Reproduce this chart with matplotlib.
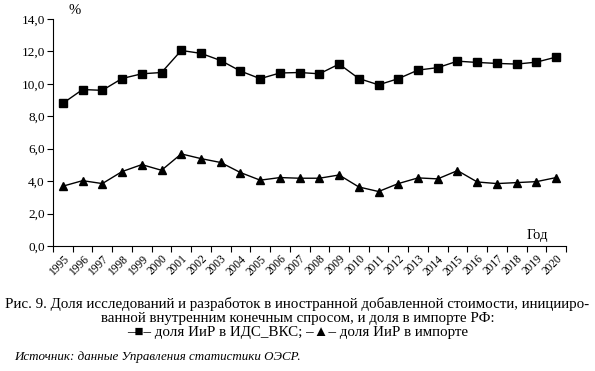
import matplotlib
matplotlib.use("Agg")
import matplotlib.pyplot as plt
from matplotlib.ticker import FixedLocator, FuncFormatter

plt.rcParams['font.family'] = ['Liberation Serif', 'DejaVu Serif']

# years and the two series (percent)
years = list(range(1995, 2021))
rd_fva = [8.8, 9.65, 9.6, 10.33, 10.62, 10.7, 12.06, 11.88, 11.44, 10.79, 10.32, 10.67, 10.7,
          10.62, 11.22, 10.33, 9.94, 10.32, 10.85, 11.0, 11.4, 11.32, 11.26, 11.22, 11.34, 11.65]
rd_import = [3.69, 4.03, 3.85, 4.59, 5.02, 4.67, 5.68, 5.39, 5.15, 4.53, 4.06, 4.22, 4.18,
             4.18, 4.38, 3.64, 3.36, 3.85, 4.2, 4.14, 4.65, 3.95, 3.85, 3.91, 3.97, 4.22]
y_ticks = [0, 2, 4, 6, 8, 10, 12, 14]

fig = plt.figure(figsize=(5.95, 3.71), dpi=100)
ax = fig.add_axes([53 / 595, 1 - 246 / 371, 513 / 595, 227 / 371])

x = list(range(len(years)))
ax.plot(x, rd_fva, color='black', lw=1.0, marker='s', ms=5.2)
ax.plot(x, rd_import, color='black', lw=1.0, marker='^', ms=6.2)

ax.set_xlim(-0.5, len(years) - 0.5)
ax.set_ylim(0, 14)
ax.set_yticks(y_ticks)
ax.yaxis.set_major_formatter(FuncFormatter(lambda v, p: f"{v:.1f}".replace('.', ',')))

# category axis: ticks between categories, labels at centres
ax.xaxis.set_major_locator(FixedLocator([i - 0.5 for i in range(len(years) + 1)]))
ax.xaxis.set_minor_locator(FixedLocator(x))
ax.set_xticklabels([])
ax.set_xticklabels([str(y) for y in years], minor=True, rotation=45, ha='right',
                   rotation_mode='anchor', fontsize=8.3)
ax.tick_params(axis='x', which='minor', length=0, pad=5)
ax.tick_params(axis='x', which='major', length=4, width=0.8, direction='out')
ax.tick_params(axis='y', length=4, width=0.8, labelsize=9.5, pad=2)

for s in ['top', 'right']:
    ax.spines[s].set_visible(False)
for s in ['left', 'bottom']:
    ax.spines[s].set_linewidth(0.8)

fig.text(75 / 595, 1 - 10 / 371, '%', fontsize=10.5, ha='center', va='center')
fig.text(537 / 595, 1 - 236 / 371, 'Год', fontsize=10.5, ha='center', va='center')

fig.text(0.5, 1 - 297 / 371,
         'Рис. 9. Доля исследований и разработок в иностранной добавленной стоимости, иницииро-\n'
         'ванной внутренним конечным спросом, и доля в импорте РФ:\n'
         '–■– доля ИиР в ИДС_ВКС; –▲– доля ИиР в импорте',
         fontsize=10.8, ha='center', va='top', linespacing=1.1)
fig.text(14 / 595, 1 - 357 / 371, 'Источник: данные Управления статистики ОЭСР.',
         fontsize=9.4, style='italic', ha='left', va='center')

fig.savefig('out.png', dpi=100)
